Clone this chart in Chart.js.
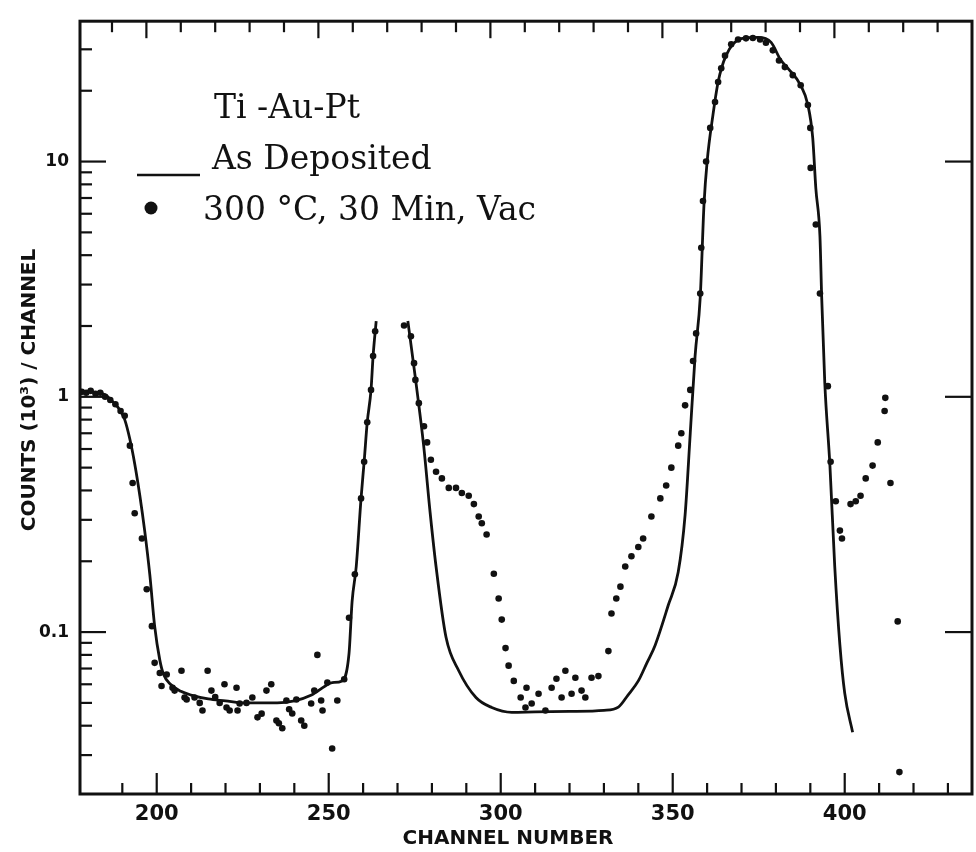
<!DOCTYPE html>
<html>
<head>
<meta charset="utf-8">
<script src="https://cdn.jsdelivr.net/npm/chart.js@4.4.1/dist/chart.umd.min.js"></script>
<style>
html,body{margin:0;padding:0;background:#fff;}
#wrap{width:976px;height:852px;position:relative;}
</style>
</head>
<body>
<div id="wrap"><canvas id="c" width="976" height="852"></canvas></div>
<script>
// ---- Data ----
const sampleName = 'Ti -Au-Pt';
const seriesNames = ['As Deposited', '300 \u00B0C, 30 Min, Vac'];
const xTitle = 'CHANNEL NUMBER';
const yTitle = 'COUNTS (10\u00B3) / CHANNEL';

// "As Deposited" solid curve (null = gap at the top of the first peak)
const lineChannels = [177.7,180,183,185,187,189.3,190.7,192.2,193.6,195.1,196.5,198.0,199.4,200.9,202,204,207,210,215,220,225,230,235,240,245,249,251,253.9,255.9,256.8,258.0,259.4,260.3,261.2,262.3,262.9,263.8,268,273.0,275.2,277.6,279.5,281.2,284.1,287.8,292.8,297.4,303.2,310,320,330,334.2,337,340,342.5,344.9,348.7,351.6,353.6,355.1,356.5,358.0,359.1,360.0,361.7,363.2,365.5,369.9,374.8,378.6,381.4,383.5,387.2,389.3,390.7,391.6,392.8,393.3,394.2,395.7,397.1,398.6,400.0,402.3];
const lineCounts = [1.04,1.05,1.04,1.02,0.96,0.88,0.80,0.66,0.52,0.38,0.27,0.175,0.106,0.076,0.066,0.060,0.056,0.054,0.052,0.051,0.050,0.050,0.050,0.051,0.054,0.059,0.061,0.062,0.081,0.135,0.19,0.37,0.53,0.78,1.07,1.49,2.1,null,2.1,1.2,0.62,0.32,0.19,0.095,0.0685,0.0527,0.0478,0.0456,0.0458,0.046,0.0465,0.048,0.054,0.062,0.074,0.088,0.13,0.18,0.315,0.70,1.49,2.65,6.6,10,15.8,21.8,28.2,33.3,33.7,32.1,27,24.9,21.1,17.4,12.6,7.7,4.8,2.66,1.15,0.51,0.19,0.088,0.055,0.0375];

// "300 C, 30 Min, Vac" dots
const dotChannels = [178.2,179.5,180.8,182.2,183.6,185.0,186.5,188.0,189.5,190.7,192.2,193.0,193.6,195.7,197.1,198.6,199.4,200.9,
 201.4,202.9,204.6,205.2,207.2,208.1,208.7,211.0,212.5,213.3,214.8,215.9,217.0,218.3,219.7,220.3,221.2,223.2,223.5,224.1,226.1,227.8,229.3,230.5,231.9,233.3,234.8,235.5,236.5,237.7,238.5,239.4,240.6,242.0,242.9,244.9,245.8,246.7,247.8,248.2,249.6,251.0,252.5,
 254.5,255.9,257.6,259.4,260.3,261.2,262.3,262.9,263.5,
 271.9,273.9,274.8,275.2,276.2,277.7,278.6,279.7,281.2,282.9,284.9,287.0,288.7,290.7,292.2,293.6,294.5,295.9,298.0,299.4,300.3,301.4,302.3,303.8,305.8,307.5,307.2,309.0,311.0,313.0,314.8,316.2,317.7,318.8,320.6,321.7,323.5,324.6,326.4,328.4,331.3,332.2,333.6,334.8,
 336.2,338.0,340.0,341.4,343.8,346.4,348.1,349.6,351.6,352.5,353.6,355.1,355.9,356.8,358.0,358.3,358.8,359.7,360.9,362.3,363.2,364.1,365.2,367.0,369.0,371.3,373.3,375.4,377.1,379.1,380.9,382.6,384.9,387.2,389.3,390.0,390.1,391.6,392.8,395.1,395.9,397.4,398.6,399.2,
 401.7,403.2,404.6,406.1,408.1,409.6,411.6,411.8,413.3,415.4,415.9];
const dotCounts = [1.05,1.04,1.06,1.03,1.04,1.0,0.97,0.93,0.87,0.83,0.62,0.43,0.32,0.25,0.152,0.106,0.074,0.067,
 0.059,0.066,0.058,0.0564,0.0685,0.0527,0.0517,0.0527,0.050,0.0464,0.0685,0.0564,0.053,0.050,0.060,0.0478,0.0464,0.058,0.0464,0.0497,0.050,0.0527,0.0434,0.045,0.0564,0.060,0.0421,0.041,0.039,0.0512,0.047,0.0451,0.0517,0.0421,0.040,0.0497,0.0564,0.080,0.0512,0.0464,0.061,0.032,0.0512,
 0.063,0.115,0.176,0.37,0.53,0.78,1.07,1.49,1.9,
 2.01,1.81,1.39,1.18,0.94,0.75,0.64,0.54,0.48,0.45,0.41,0.41,0.39,0.38,0.35,0.31,0.29,0.26,0.177,0.139,0.113,0.0855,0.072,0.062,0.0527,0.058,0.0478,0.0497,0.0547,0.0464,0.058,0.0633,0.0527,0.0685,0.0547,0.064,0.0564,0.0527,0.064,0.065,0.083,0.120,0.139,0.156,
 0.19,0.21,0.23,0.25,0.31,0.37,0.42,0.50,0.62,0.70,0.92,1.07,1.42,1.86,2.75,4.3,6.8,10,13.9,17.9,21.8,24.9,28.2,31.5,33,33.4,33.5,33,32,29.7,26.9,25.2,23.3,21.1,17.4,13.9,9.4,5.4,2.75,1.11,0.53,0.36,0.27,0.25,
 0.35,0.36,0.38,0.45,0.51,0.64,0.87,0.99,0.43,0.111,0.0254];

// Axis ticks
const xMajorTicks = [200,250,300,350,400];
const xTickLabels = ['200','250','300','350','400'];
const xMinorTicks = [190,210,220,230,240,260,270,280,290,310,320,330,340,360,370,380,390,410,420,430];
const topAxisTicks = [187,197,207,217,227,237,247,257,267,277,287,297,307,317,327,337,347,357,367,377,387,397,407,417,427];
const topAxisMajor = [197,247,297,347,397];
const yMajorTicks = [0.1,1,10];
const yTickLabels = ['0.1','1','10'];
const yMinorTicks = [0.03,0.04,0.05,0.06,0.07,0.08,0.09,0.2,0.3,0.4,0.5,0.6,0.7,0.8,0.9,2,3,4,5,6,7,8,9,20,30];

const INK = '#111';

const framePlugin = {
  id: 'frame',
  afterDatasetsDraw(chart) {
    const {ctx, chartArea: a, scales: {x, y}} = chart;
    ctx.save();
    ctx.strokeStyle = INK;
    ctx.lineCap = 'butt';
    const seg = (x1, y1, x2, y2) => { ctx.beginPath(); ctx.moveTo(x1, y1); ctx.lineTo(x2, y2); ctx.stroke(); };
    ctx.lineWidth = 3;
    ctx.strokeRect(a.left, a.top, a.right - a.left, a.bottom - a.top);
    ctx.lineWidth = 2.2;
    xMinorTicks.forEach(v => { const p = x.getPixelForValue(v); seg(p, a.bottom, p, a.bottom - 11); });
    xMajorTicks.forEach(v => { const p = x.getPixelForValue(v); seg(p, a.bottom, p, a.bottom - 21); });
    topAxisTicks.forEach(v => { const p = x.getPixelForValue(v); seg(p, a.top, p, a.top + (topAxisMajor.includes(v) ? 17 : 11)); });
    yMinorTicks.forEach(v => { const p = y.getPixelForValue(v); seg(a.left, p, a.left + 12, p); });
    yMajorTicks.forEach(v => { const p = y.getPixelForValue(v); seg(a.left, p, a.left + 26, p); seg(a.right, p, a.right - 27, p); });
    ctx.restore();
  },
  afterDraw(chart) {
    const {ctx} = chart;
    ctx.save();
    ctx.fillStyle = INK;
    ctx.strokeStyle = INK;
    // axis titles
    ctx.font = 'bold 20px "DejaVu Sans"';
    ctx.textAlign = 'center';
    ctx.textBaseline = 'middle';
    ctx.fillText(xTitle, 508, 839);
    ctx.save();
    ctx.translate(30, 390);
    ctx.rotate(-Math.PI / 2);
    ctx.fillText(yTitle, 0, 0);
    ctx.restore();
    // legend block
    ctx.textAlign = 'left';
    ctx.textBaseline = 'alphabetic';
    ctx.font = '33px "DejaVu Serif"';
    ctx.fillText(sampleName, 214, 118);
    ctx.fillText(seriesNames[0], 212, 169);
    ctx.fillText(seriesNames[1], 203, 220);
    ctx.lineWidth = 2.4;
    ctx.beginPath(); ctx.moveTo(137, 175); ctx.lineTo(200, 175); ctx.stroke();
    ctx.beginPath(); ctx.arc(151, 208, 6.5, 0, Math.PI * 2); ctx.fill();
    ctx.restore();
  }
};

new Chart(document.getElementById('c'), {
  type: 'scatter',
  data: {
    datasets: [
      {
        label: seriesNames[0],
        data: lineChannels.map((c, i) => ({x: c, y: lineCounts[i]})),
        showLine: true,
        spanGaps: false,
        borderColor: INK,
        borderWidth: 2.8,
        pointRadius: 0,
        cubicInterpolationMode: 'monotone',
        order: 2
      },
      {
        label: seriesNames[1],
        data: dotChannels.map((c, i) => ({x: c, y: dotCounts[i]})),
        showLine: false,
        backgroundColor: INK,
        borderColor: INK,
        borderWidth: 0,
        pointRadius: 3.3,
        pointStyle: 'circle',
        order: 1
      }
    ]
  },
  options: {
    responsive: false,
    devicePixelRatio: 1,
    animation: false,
    layout: {padding: {top: 16, right: -3, left: 0, bottom: 0}},
    plugins: {legend: {display: false}, tooltip: {enabled: false}},
    scales: {
      x: {
        type: 'linear',
        min: 177.7,
        max: 437,
        afterFit: s => { s.height = 58; },
        afterBuildTicks: s => { s.ticks = xMajorTicks.map(v => ({value: v})); },
        grid: {display: false, drawTicks: false},
        border: {display: false},
        ticks: {
          color: INK,
          padding: 8,
          maxRotation: 0,
          autoSkip: false,
          font: {family: '"DejaVu Sans"', size: 21, weight: 'bold'},
          callback: v => xTickLabels[xMajorTicks.indexOf(v)]
        }
      },
      y: {
        type: 'logarithmic',
        min: 0.0205,
        max: 39.5,
        afterFit: s => { s.width = 80; },
        afterBuildTicks: s => { s.ticks = yMajorTicks.map(v => ({value: v})); },
        grid: {display: false, drawTicks: false},
        border: {display: false},
        ticks: {
          color: INK,
          padding: 11,
          autoSkip: false,
          font: {family: '"DejaVu Sans"', size: 17, weight: 'bold'},
          callback: v => yTickLabels[yMajorTicks.indexOf(v)]
        }
      }
    }
  },
  plugins: [framePlugin]
});
</script>
</body>
</html>
